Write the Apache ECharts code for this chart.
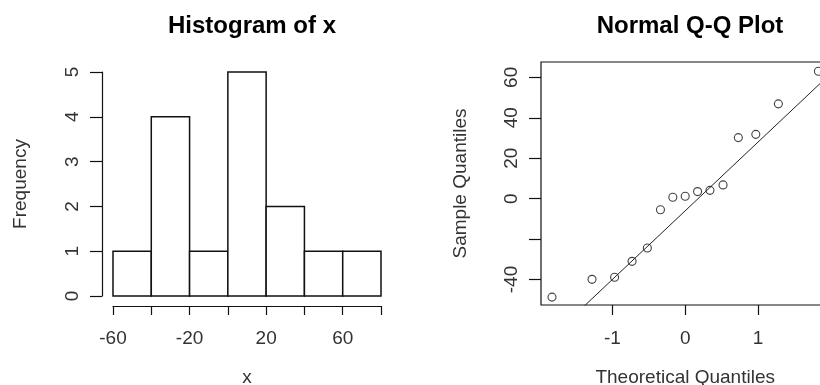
<!DOCTYPE html>
<html>
<head>
<meta charset="utf-8">
<script src="https://cdn.jsdelivr.net/npm/echarts@6/dist/echarts.min.js"></script>
<style>
  html, body { margin: 0; padding: 0; background: #fff; }
  #main { width: 820px; height: 385px; }
</style>
</head>
<body>
<div id="main"></div>
<script>
// histogram of x
var histBreaks = [-60, -40, -20, 0, 20, 40, 60, 80];
var histCounts = [1, 4, 1, 5, 2, 1, 1];
var histXLabels = [-60, -20, 20, 60];

// normal Q-Q plot
var theoQuant = [-1.83, -1.28, -0.97, -0.73, -0.52, -0.34, -0.17, 0, 0.17, 0.34, 0.52, 0.73, 0.97, 1.28, 1.83];
var sampleQuant = [-48.7, -39.9, -38.9, -31.0, -24.4, -5.5, 0.7, 1.2, 3.5, 4.1, 6.8, 30.2, 31.8, 46.9, 63.0];
var qqLine = [[-1.981, -73.3], [1.981, 61.3]];
var qqXTicks = [-1, 0, 1];
var qqYTicks = [-40, -20, 0, 20, 40, 60];
var qqYLabels = [-40, 0, 20, 40, 60];

var FONT = '"Liberation Sans", Arial, sans-serif';
var INK = '#111';
var TXT = '#333';

var histData = histCounts.map(function (c, i) {
  return [histBreaks[i], histBreaks[i + 1], c];
});
var qqData = theoQuant.map(function (t, i) { return [t, sampleQuant[i]]; });

var myChart = echarts.init(document.getElementById('main'), null, { renderer: 'canvas' });

var labelStyle = { color: TXT, fontFamily: FONT, fontSize: 19 };
var titleStyle = { fontFamily: FONT, fontSize: 24, fontWeight: 'bold', color: '#000' };

var option = {
  backgroundColor: '#fff',
  animation: false,
  title: [
    { text: 'Histogram of x', left: 247, top: 9, textAlign: 'center', textStyle: titleStyle },
    { text: 'Normal Q-Q Plot', left: 685, top: 9, textAlign: 'center', textStyle: titleStyle }
  ],
  grid: [
    { left: 113, top: 72, width: 268, height: 224, containLabel: false, outerBoundsMode: 'none' },
    { left: 541, top: 62, width: 288.4, height: 243, containLabel: false, outerBoundsMode: 'none',
      show: true, borderColor: INK, borderWidth: 1.2, backgroundColor: 'transparent' }
  ],
  xAxis: [
    {
      gridIndex: 0, type: 'value', min: -60, max: 80, interval: 20, offset: 10,
      name: 'x', nameLocation: 'middle', nameGap: 62,
      nameTextStyle: labelStyle,
      splitLine: { show: false },
      axisLine: { show: true, onZero: false, lineStyle: { color: INK, width: 1.2 } },
      axisTick: { show: true, length: 9, lineStyle: { color: INK, width: 1.2 } },
      axisLabel: Object.assign({
        margin: 23, showMinLabel: true, showMaxLabel: true,
        formatter: function (v) { return histXLabels.indexOf(v) >= 0 ? String(v) : ''; }
      }, labelStyle)
    },
    {
      gridIndex: 1, type: 'value', min: -1.981, max: 1.981,
      name: 'Theoretical Quantiles', nameLocation: 'middle', nameGap: 63,
      nameTextStyle: labelStyle,
      splitLine: { show: false },
      axisLine: { show: false, onZero: false },
      axisTick: { show: true, length: 10, customValues: qqXTicks, lineStyle: { color: INK, width: 1.2 } },
      axisLabel: Object.assign({ margin: 24, customValues: qqXTicks }, labelStyle)
    }
  ],
  yAxis: [
    {
      gridIndex: 0, type: 'value', min: 0, max: 5, interval: 1, offset: 11,
      name: 'Frequency', nameLocation: 'middle', nameGap: 72, nameRotate: 90,
      nameTextStyle: labelStyle,
      splitLine: { show: false },
      axisLine: { show: true, onZero: false, lineStyle: { color: INK, width: 1.2 } },
      axisTick: { show: true, length: 12, lineStyle: { color: INK, width: 1.2 } },
      axisLabel: Object.assign({ margin: 20, rotate: 90 }, labelStyle)
    },
    {
      gridIndex: 1, type: 'value', min: -52.6, max: 67.6,
      name: 'Sample Quantiles', nameLocation: 'middle', nameGap: 71, nameRotate: 90,
      nameTextStyle: labelStyle,
      splitLine: { show: false },
      axisLine: { show: false, onZero: false },
      axisTick: { show: true, length: 12, customValues: qqYTicks, lineStyle: { color: INK, width: 1.2 } },
      axisLabel: Object.assign({ margin: 20, rotate: 90, customValues: qqYLabels }, labelStyle)
    }
  ],
  series: [
    {
      type: 'custom',
      xAxisIndex: 0, yAxisIndex: 0,
      encode: { x: [0, 1], y: 2 },
      data: histData,
      renderItem: function (params, api) {
        var topLeft = api.coord([api.value(0), api.value(2)]);
        var botRight = api.coord([api.value(1), 0]);
        return {
          type: 'rect',
          shape: { x: topLeft[0], y: topLeft[1], width: botRight[0] - topLeft[0], height: botRight[1] - topLeft[1] },
          style: { fill: '#fff', stroke: INK, lineWidth: 1.5 }
        };
      }
    },
    {
      type: 'line',
      xAxisIndex: 1, yAxisIndex: 1,
      data: qqLine,
      clip: true,
      symbol: 'none',
      lineStyle: { color: '#222', width: 1 }
    },
    {
      type: 'scatter',
      xAxisIndex: 1, yAxisIndex: 1,
      data: qqData,
      symbol: 'circle',
      symbolSize: 8,
      itemStyle: { color: '#fff', borderColor: INK, borderWidth: 1.1 }
    }
  ]
};

myChart.setOption(option);
</script>
</body>
</html>
